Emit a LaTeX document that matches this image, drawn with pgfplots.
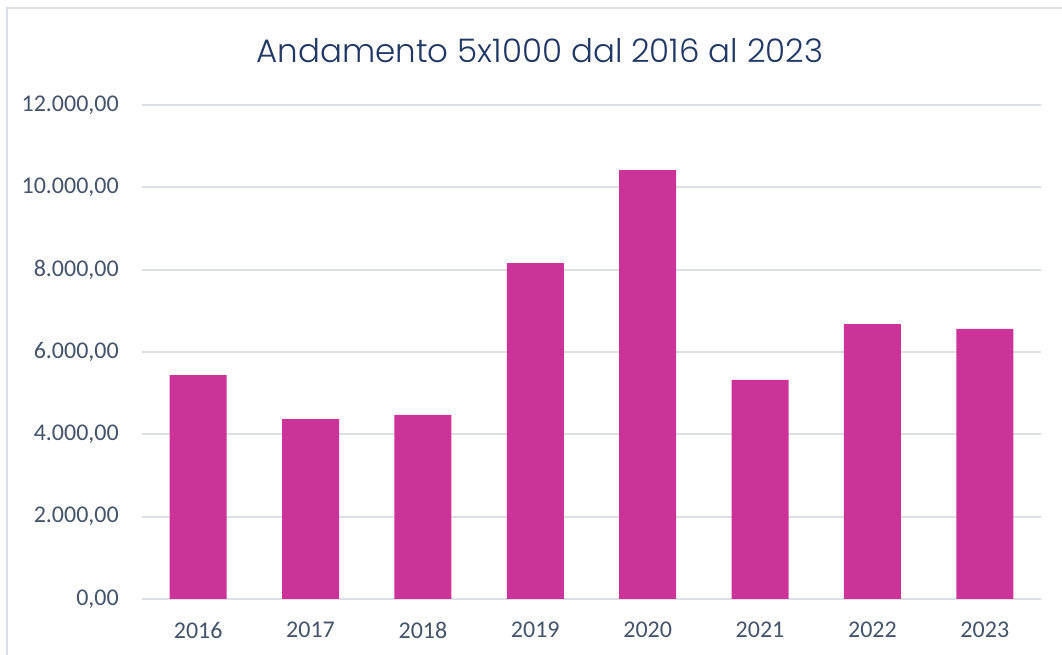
\documentclass[border=0pt]{standalone}
\usepackage{fontspec}
\setmainfont{Carlito}[Numbers=Lining]
\newfontfamily\titlefont{Poppins Light}
\usepackage{pgfplots}
\pgfplotsset{compat=1.18}
\definecolor{barpink}{RGB}{204,51,153}
\definecolor{titleblue}{RGB}{32,56,100}
\definecolor{ticktext}{RGB}{68,84,106}
\definecolor{gridgray}{RGB}{220,224,230}
\begin{document}
\begin{tikzpicture}
\path[use as bounding box] (0pt,0pt) rectangle (1062pt,655pt);
% chart frame (only top and left edges are inside the crop)
\draw[gridgray,line width=2pt] (7pt,0pt) -- (7pt,647pt) -- (1062pt,647pt);
\node[anchor=base,text=titleblue,font=\titlefont\fontsize{32.5}{36}\selectfont,inner sep=0pt]
  at (540pt,592pt) {Andamento 5x1000 dal 2016 al 2023};
\begin{axis}[
  at={(142pt,56pt)},anchor=south west,
  scale only axis,width=899pt,height=494pt,
  ybar,bar width=57pt,
  xmin=-0.5,xmax=7.5,ymin=0,ymax=12000,
  xtick={0,...,7},
  xticklabels={2016,2017,2018,2019,2020,2021,2022,2023},
  ytick={0,2000,...,12000},
  ymajorgrids,major grid style={gridgray,line width=1.8pt},
  axis line style={draw=none},
  major tick length=0pt,
  tick label style={font=\fontsize{24}{26}\selectfont,text=ticktext,inner sep=0pt},
  yticklabel style={anchor=east,xshift=-23pt},
  xticklabel style={anchor=north,yshift=-23pt},
  /pgf/number format/assume math mode=true,
  yticklabel={\pgfmathprintnumber[fixed,fixed zerofill,precision=2,1000 sep={.},use comma]{\tick}},
  scaled y ticks=false,
  clip=false,
]
\addplot[fill=barpink,draw=none] coordinates {
  (0,5440) (1,4370) (2,4470) (3,8160) (4,10420) (5,5320) (6,6680) (7,6560)};
\end{axis}
\end{tikzpicture}
\end{document}
